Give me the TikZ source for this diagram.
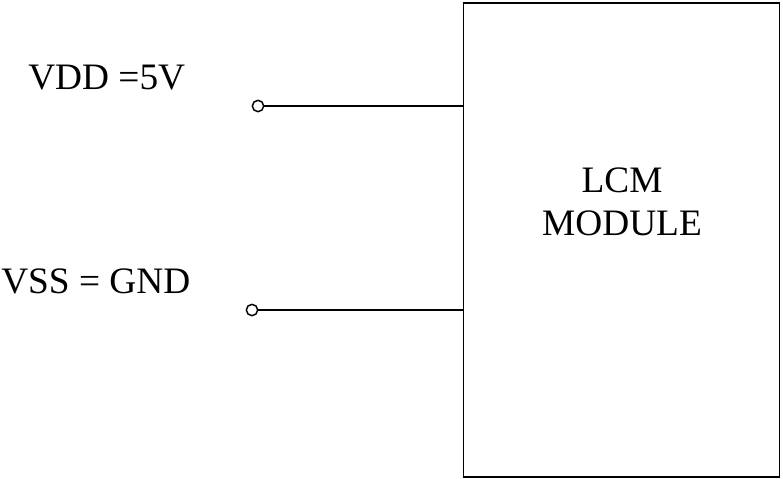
\documentclass[tikz,border=0pt]{standalone}
\usepackage{fontspec}
\setmainfont{Liberation Serif}
\usepackage{tikz}

\begin{document}
\begin{tikzpicture}[
        x=0.75pt, y=-0.75pt,
        every node/.style={font=\fontsize{28}{32}\selectfont, inner sep=0pt},
        lab/.style={anchor=base west},
        pin/.style={circle, draw, line width=1.1pt, minimum size=8.5pt, fill=white},
        wire/.style={line width=1.1pt},
        module/.style={draw, line width=1.3pt, minimum width=237pt, minimum height=355pt}
    ]

    \useasboundingbox (0,0) rectangle (783,479);

    \node[module] (lcm) at (621.5,240) {};
    \node[align=center, anchor=base] (lcmlabel) at (622,235) {LCM\\MODULE};

    \node[lab] (vddlabel) at (28,89) {VDD =5V};
    \node[lab] (vsslabel) at (1,293) {VSS = GND};

    \node[pin] (vddpin) at (258,106) {};
    \node[pin] (vsspin) at (252,310) {};

    \draw[wire] (vddpin) -- (vddpin -| lcm.west);
    \draw[wire] (vsspin) -- (vsspin -| lcm.west);

\end{tikzpicture}
\end{document}
